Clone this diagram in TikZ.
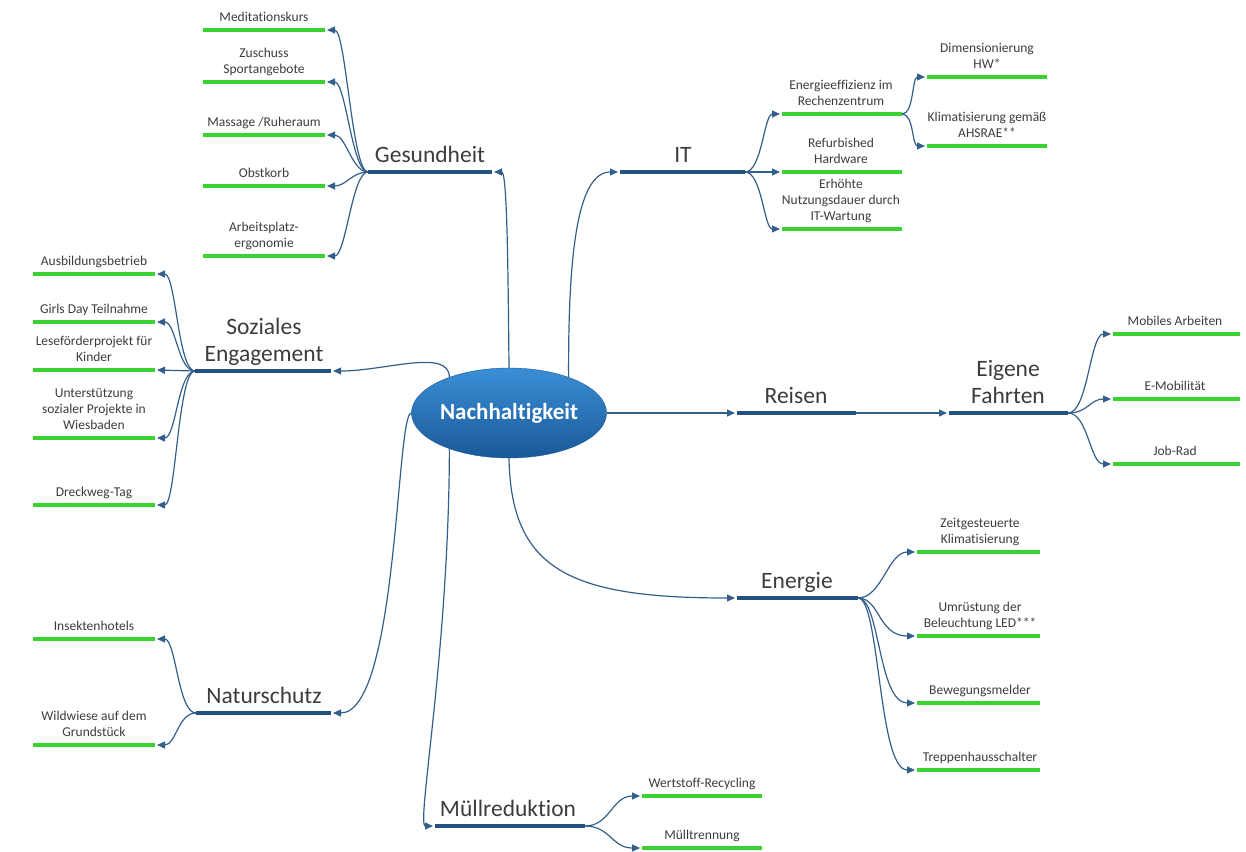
\documentclass[tikz,border=0pt]{standalone}
\usepackage{fontspec}
\setmainfont{Carlito}[Ligatures={NoCommon,NoContextual}]
\usepackage{xcolor}
\usepackage{tikz}
\usetikzlibrary{arrows.meta}
\usetikzlibrary{shapes.geometric}

\definecolor{astblau}{RGB}{35,82,128}
\definecolor{pfeilblau}{RGB}{50,95,138}
\definecolor{blattgruen}{RGB}{58,210,48}
\definecolor{textgrau}{RGB}{60,60,60}
\definecolor{kernhell}{RGB}{58,143,214}
\definecolor{kerndunkel}{RGB}{26,88,152}

\tikzset{
	ast/.style={draw=astblau,line width=3.5pt,shorten <=2pt},
	blatt/.style={draw=blattgruen,line width=3.5pt,shorten <=2pt},
	pfeil/.style={draw=pfeilblau,line width=1.2pt,-{Triangle[length=8pt,width=7pt]}},
	titel/.style={anchor=south,inner sep=0pt,align=center,text=textgrau,font=\fontsize{23.5}{27}\selectfont,execute at end node=\vphantom{g}},
	punkt/.style={anchor=south,inner sep=0pt,align=center,text=textgrau,font=\fontsize{13.5}{16}\selectfont,execute at end node=\vphantom{g}},
	kern/.style={ellipse,minimum width=190pt,minimum height=90pt,inner sep=0pt,top color=kernhell,bottom color=kerndunkel,draw=kerndunkel,text=white,font=\fontsize{23}{27}\selectfont\bfseries}
}

\begin{document}
\begin{tikzpicture}[x=1pt,y=-1pt]
		\useasboundingbox (0,0) rectangle (1246,851);
		\node[kern] (nh) at (509,413) {Nachhaltigkeit};

		\coordinate (ges-in) at (494,172);
		\coordinate (ges-out) at (368,172);
		\draw[ast] (ges-in) -- (ges-out);
		\node[titel] (ges) at (430,167) {Gesundheit};
		\draw[pfeil] (nh.north) .. controls (508,260) and (507,172) .. (ges-in);

		\coordinate (med) at (327,30);
		\draw[blatt] (med) -- (203,30);
		\node[punkt] (med-t) at (264,24.5) {Meditationskurs};
		\draw[pfeil] (ges-out) .. controls (352,172) and (346,30) .. (med);
		\coordinate (zus) at (327,82);
		\draw[blatt] (zus) -- (203,82);
		\node[punkt] (zus-t) at (264,76.5) {Zuschuss\\Sportangebote};
		\draw[pfeil] (ges-out) .. controls (352,172) and (346,82) .. (zus);
		\coordinate (mas) at (327,135);
		\draw[blatt] (mas) -- (203,135);
		\node[punkt] (mas-t) at (264,129.5) {Massage /Ruheraum};
		\draw[pfeil] (ges-out) .. controls (352,172) and (346,135) .. (mas);
		\coordinate (obs) at (327,186);
		\draw[blatt] (obs) -- (203,186);
		\node[punkt] (obs-t) at (264,180.5) {Obstkorb};
		\draw[pfeil] (ges-out) .. controls (352,172) and (346,186) .. (obs);
		\coordinate (arb) at (327,256);
		\draw[blatt] (arb) -- (203,256);
		\node[punkt] (arb-t) at (264,250.5) {Arbeitsplatz-\\ergonomie};
		\draw[pfeil] (ges-out) .. controls (352,172) and (346,256) .. (arb);

		\coordinate (it-in) at (618,172);
		\coordinate (it-out) at (745,172);
		\draw[ast] (it-in) -- (it-out);
		\node[titel] (it) at (683,167) {IT};
		\draw[pfeil] (nh.31) .. controls (568,250) and (578,172) .. (it-in);

		\coordinate (eff) at (780,114);
		\coordinate (eff-out) at (902,114);
		\draw[blatt] (eff) -- (eff-out);
		\node[punkt] (eff-t) at (841,108.5) {Energieeffizienz im\\Rechenzentrum};
		\draw[pfeil] (it-out) .. controls (762,172) and (764,114) .. (eff);
		\coordinate (ref) at (780,172);
		\draw[blatt] (ref) -- (902,172);
		\node[punkt] (ref-t) at (841,166.5) {Refurbished\\Hardware};
		\draw[pfeil] (it-out) -- (ref);
		\coordinate (erh) at (780,229);
		\draw[blatt] (erh) -- (902,229);
		\node[punkt] (erh-t) at (841,223.5) {Erhöhte\\Nutzungsdauer durch\\IT-Wartung};
		\draw[pfeil] (it-out) .. controls (762,172) and (764,229) .. (erh);

		\coordinate (dim) at (925,77);
		\draw[blatt] (dim) -- (1047,77);
		\node[punkt] (dim-t) at (987,71.5) {Dimensionierung\\HW*};
		\draw[pfeil] (eff-out) .. controls (914,114) and (912,77) .. (dim);
		\coordinate (kli) at (925,146);
		\draw[blatt] (kli) -- (1047,146);
		\node[punkt] (kli-t) at (987,140.5) {Klimatisierung gemäß\\AHSRAE**};
		\draw[pfeil] (eff-out) .. controls (914,114) and (912,146) .. (kli);

		\coordinate (soz-in) at (333,371);
		\coordinate (soz-out) at (195,371);
		\draw[ast] (soz-in) -- (soz-out);
		\node[titel] (soz) at (264,366) {Soziales\\Engagement};
		\draw[pfeil] (nh.149) .. controls (449,348) and (385,371) .. (soz-in);

		\coordinate (aus) at (157,274);
		\draw[blatt] (aus) -- (33,274);
		\node[punkt] (aus-t) at (94,268.5) {Ausbildungsbetrieb};
		\draw[pfeil] (soz-out) .. controls (178,371) and (176,274) .. (aus);
		\coordinate (gir) at (157,322);
		\draw[blatt] (gir) -- (33,322);
		\node[punkt] (gir-t) at (94,316.5) {Girls Day Teilnahme};
		\draw[pfeil] (soz-out) .. controls (178,371) and (176,322) .. (gir);
		\coordinate (les) at (157,370);
		\draw[blatt] (les) -- (33,370);
		\node[punkt] (les-t) at (94,364.5) {Leseförderprojekt für\\Kinder};
		\draw[pfeil] (soz-out) -- (les);
		\coordinate (unt) at (157,438);
		\draw[blatt] (unt) -- (33,438);
		\node[punkt] (unt-t) at (94,432.5) {Unterstützung\\sozialer Projekte in\\Wiesbaden};
		\draw[pfeil] (soz-out) .. controls (178,371) and (176,438) .. (unt);
		\coordinate (dre) at (157,505);
		\draw[blatt] (dre) -- (33,505);
		\node[punkt] (dre-t) at (94,499.5) {Dreckweg-Tag};
		\draw[pfeil] (soz-out) .. controls (178,371) and (176,505) .. (dre);

		\coordinate (rei-in) at (735,413);
		\coordinate (rei-out) at (856,413);
		\draw[ast] (rei-in) -- (rei-out);
		\node[titel] (rei) at (796,408) {Reisen};
		\draw[pfeil] (nh.east) -- (rei-in);

		\coordinate (eig-in) at (947,413);
		\coordinate (eig-out) at (1068,413);
		\draw[ast] (eig-in) -- (eig-out);
		\node[titel] (eig) at (1008,408) {Eigene\\Fahrten};
		\draw[pfeil] (rei-out) -- (eig-in);

		\coordinate (mob) at (1111,334);
		\draw[blatt] (mob) -- (1240,334);
		\node[punkt] (mob-t) at (1175,328.5) {Mobiles Arbeiten};
		\draw[pfeil] (eig-out) .. controls (1088,413) and (1090,334) .. (mob);
		\coordinate (emo) at (1111,399);
		\draw[blatt] (emo) -- (1240,399);
		\node[punkt] (emo-t) at (1175,393.5) {E-Mobilität};
		\draw[pfeil] (eig-out) .. controls (1088,413) and (1090,399) .. (emo);
		\coordinate (job) at (1111,464);
		\draw[blatt] (job) -- (1240,464);
		\node[punkt] (job-t) at (1175,458.5) {Job-Rad};
		\draw[pfeil] (eig-out) .. controls (1088,413) and (1090,464) .. (job);

		\coordinate (ene-in) at (735,598);
		\coordinate (ene-out) at (858,598);
		\draw[ast] (ene-in) -- (ene-out);
		\node[titel] (ene) at (797,593) {Energie};
		\draw[pfeil] (nh.south) .. controls (511,570) and (570,598) .. (ene-in);

		\coordinate (zei) at (915,552);
		\draw[blatt] (zei) -- (1040,552);
		\node[punkt] (zei-t) at (980,546.5) {Zeitgesteuerte\\Klimatisierung};
		\draw[pfeil] (ene-out) .. controls (882,598) and (888,552) .. (zei);
		\coordinate (umr) at (915,636);
		\draw[blatt] (umr) -- (1040,636);
		\node[punkt] (umr-t) at (980,630.5) {Umrüstung der\\Beleuchtung LED***};
		\draw[pfeil] (ene-out) .. controls (880,598) and (878,636) .. (umr);
		\coordinate (bew) at (915,703);
		\draw[blatt] (bew) -- (1040,703);
		\node[punkt] (bew-t) at (980,697.5) {Bewegungsmelder};
		\draw[pfeil] (ene-out) .. controls (880,598) and (878,703) .. (bew);
		\coordinate (tre) at (915,770);
		\draw[blatt] (tre) -- (1040,770);
		\node[punkt] (tre-t) at (980,764.5) {Treppenhausschalter};
		\draw[pfeil] (ene-out) .. controls (880,598) and (878,770) .. (tre);

		\coordinate (nat-in) at (333,713);
		\coordinate (nat-out) at (196,713);
		\draw[ast] (nat-in) -- (nat-out);
		\node[titel] (nat) at (264,708) {Naturschutz};
		\draw[pfeil] (nh.west) .. controls (396,413) and (398,713) .. (nat-in);

		\coordinate (ins) at (157,639);
		\draw[blatt] (ins) -- (33,639);
		\node[punkt] (ins-t) at (94,633.5) {Insektenhotels};
		\draw[pfeil] (nat-out) .. controls (178,713) and (176,639) .. (ins);
		\coordinate (wil) at (157,745);
		\draw[blatt] (wil) -- (33,745);
		\node[punkt] (wil-t) at (94,739.5) {Wildwiese auf dem\\Grundstück};
		\draw[pfeil] (nat-out) .. controls (178,713) and (176,745) .. (wil);

		\coordinate (mue-in) at (433,826);
		\coordinate (mue-out) at (585,826);
		\draw[ast] (mue-in) -- (mue-out);
		\node[titel] (mue) at (508,821) {Müllreduktion};
		\draw[pfeil] (nh.211) .. controls (449,650) and (416,826) .. (mue-in);

		\coordinate (wer) at (640,796);
		\draw[blatt] (wer) -- (762,796);
		\node[punkt] (wer-t) at (702,790.5) {Wertstoff-Recycling};
		\draw[pfeil] (mue-out) .. controls (610,826) and (612,796) .. (wer);
		\coordinate (mtr) at (640,848);
		\draw[blatt] (mtr) -- (762,848);
		\node[punkt] (mtr-t) at (702,842.5) {Mülltrennung};
		\draw[pfeil] (mue-out) .. controls (610,826) and (612,848) .. (mtr);
	\end{tikzpicture}
\end{document}
